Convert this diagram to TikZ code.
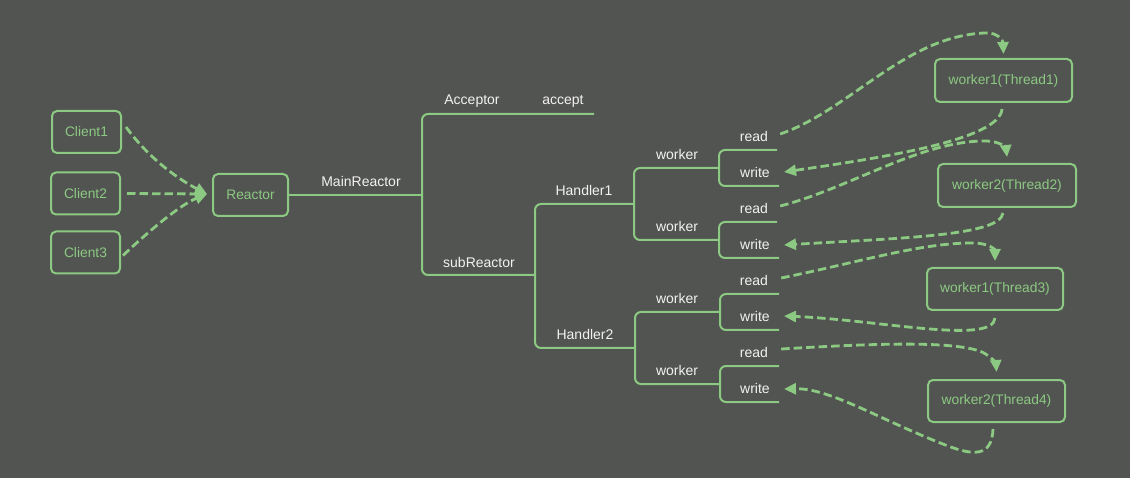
\documentclass[tikz,border=0pt]{standalone}
\usepackage{fontspec}
\setmainfont{Liberation Sans}
\usetikzlibrary{arrows.meta}
\definecolor{bg}{RGB}{82,84,81}
\definecolor{gr}{RGB}{140,201,130}
\definecolor{txt}{RGB}{242,242,242}
\begin{document}
\begin{tikzpicture}[x=1pt,y=-1pt,
  box/.style={draw=gr,line width=2pt,rounded corners=5pt,text=gr,font=\fontsize{13.8}{16}\selectfont,inner sep=0pt},
  lbl/.style={text=txt,font=\fontsize{14}{16}\selectfont,inner sep=0pt},
  tree/.style={draw=gr,line width=2pt,rounded corners=6pt},
  flow/.style={draw=gr,line width=2.8pt,dash pattern=on 8.5pt off 4pt,-{Triangle[length=12pt,width=11pt]}}]
\fill[bg] (0,0) rectangle (1130,478);
\useasboundingbox (0,0) rectangle (1130,478);

% boxes
\node[box,minimum width=69pt,minimum height=42pt] (c1) at (86.5,132) {Client1};
\node[box,minimum width=69pt,minimum height=42pt] (c2) at (85.5,193.5) {Client2};
\node[box,minimum width=69pt,minimum height=42pt] (c3) at (85.5,252.5) {Client3};
\node[box,minimum width=75pt,minimum height=42pt] (reactor) at (250.5,195) {Reactor};
\node[box,minimum width=137pt,minimum height=43pt] (w1) at (1003.5,80.5) {worker1(Thread1)};
\node[box,minimum width=138pt,minimum height=43pt] (w2) at (1007,185.5) {worker2(Thread2)};
\node[box,minimum width=136pt,minimum height=42pt] (w3) at (995,289) {worker1(Thread3)};
\node[box,minimum width=137pt,minimum height=42pt] (w4) at (996.5,401) {worker2(Thread4)};

% labels
\node[lbl] (main) at (361,181) {MainReactor};
\node[lbl] (acc) at (472,101) {Acceptor};
\node[lbl] (accept) at (563,101) {accept};
\node[lbl] (sub) at (479,262) {subReactor};
\node[lbl] (h1) at (584,190) {Handler1};
\node[lbl] (h2) at (585,334) {Handler2};
\node[lbl] (wk1) at (677,154) {worker};
\node[lbl] (wk2) at (677,226) {worker};
\node[lbl] (wk3) at (677,298) {worker};
\node[lbl] (wk4) at (677,370) {worker};
\node[lbl] (r1) at (754,136) {read};
\node[lbl] (r2) at (754,208) {read};
\node[lbl] (r3) at (754,280) {read};
\node[lbl] (r4) at (754,352) {read};
\node[lbl] (wr1) at (755,172) {write};
\node[lbl] (wr2) at (755,244) {write};
\node[lbl] (wr3) at (755,316) {write};
\node[lbl] (wr4) at (755,388) {write};

% tree junctions
\coordinate (jm) at (422,195);
\coordinate (js) at (535,275);
\coordinate (jh1) at (634,204);
\coordinate (jh2) at (635,348);
\coordinate (jk1) at (719,168);
\coordinate (jk2) at (719,240);
\coordinate (jk3) at (720,312);
\coordinate (jk4) at (720,384);

\draw[tree] (reactor.east) -- (jm);
\draw[tree] (594,114) -- (422,114) -- (422,275) -- (js);
\draw[tree] (jh1) -- (535,204) -- (535,348) -- (jh2);
\draw[tree] (jk1) -- (634,168) -- (634,240) -- (jk2);
\draw[tree] (jk3) -- (635,312) -- (635,384) -- (jk4);
\draw[tree] (777,150) -- (719,150) -- (719,186) -- (779,186);
\draw[tree] (777,222) -- (719,222) -- (719,258) -- (779,258);
\draw[tree] (779,294) -- (720,294) -- (720,330) -- (779,330);
\draw[tree] (779,366) -- (720,366) -- (720,402) -- (779,402);

% client arrows
\coordinate (rin) at ([xshift=-5pt,yshift=1pt]reactor.west);
\draw[flow] ([xshift=4pt,yshift=5pt]c1.east) .. controls (150,160) and (180,180) .. (rin);
\draw[flow] ([xshift=6pt]c2.east) -- (rin);
\draw[flow] ([xshift=2pt,yshift=-3pt]c3.east) .. controls (150,230) and (180,205) .. (rin);

% read -> worker
\draw[flow] ([xshift=12pt,yshift=2pt]r1.east) .. controls (850,110) and (905,36) .. (985,33) .. controls (998,32) and (1003,41) .. ([yshift=4pt]w1.north);
\draw[flow] ([xshift=12pt,yshift=2pt]r2.east) .. controls (850,188) and (920,141) .. (985,141) .. controls (1000,141) and (1006,148) .. ([yshift=6pt]w2.north);
\draw[flow] ([xshift=13pt,yshift=2pt]r3.east) .. controls (860,262) and (920,243) .. (972,243) .. controls (990,243) and (995,250) .. ([yshift=6pt]w3.north);
\draw[flow] ([xshift=13pt,yshift=3pt]r4.east) .. controls (880,343) and (955,341) .. (982,352) .. controls (992,357) and (996,364) .. ([yshift=7pt]w4.north);

% worker -> write
\draw[flow] ([xshift=-1.5pt,yshift=-6pt]w1.south) .. controls (1000,140) and (880,158) .. ([xshift=14pt]wr1.east);
\draw[flow] ([xshift=-4pt,yshift=-5pt]w2.south) .. controls (1000,236) and (900,238) .. ([xshift=14pt,yshift=-1pt]wr2.east);
\draw[flow] ([yshift=-7pt]w3.south) .. controls (993,345) and (880,320) .. ([xshift=14pt]wr3.east);
\draw[flow] ([xshift=-3.5pt,yshift=-6pt]w4.south) .. controls (992,458) and (972,455) .. (948,446) .. controls (880,420) and (830,388) .. ([xshift=14pt,yshift=-1pt]wr4.east);
\end{tikzpicture}
\end{document}
